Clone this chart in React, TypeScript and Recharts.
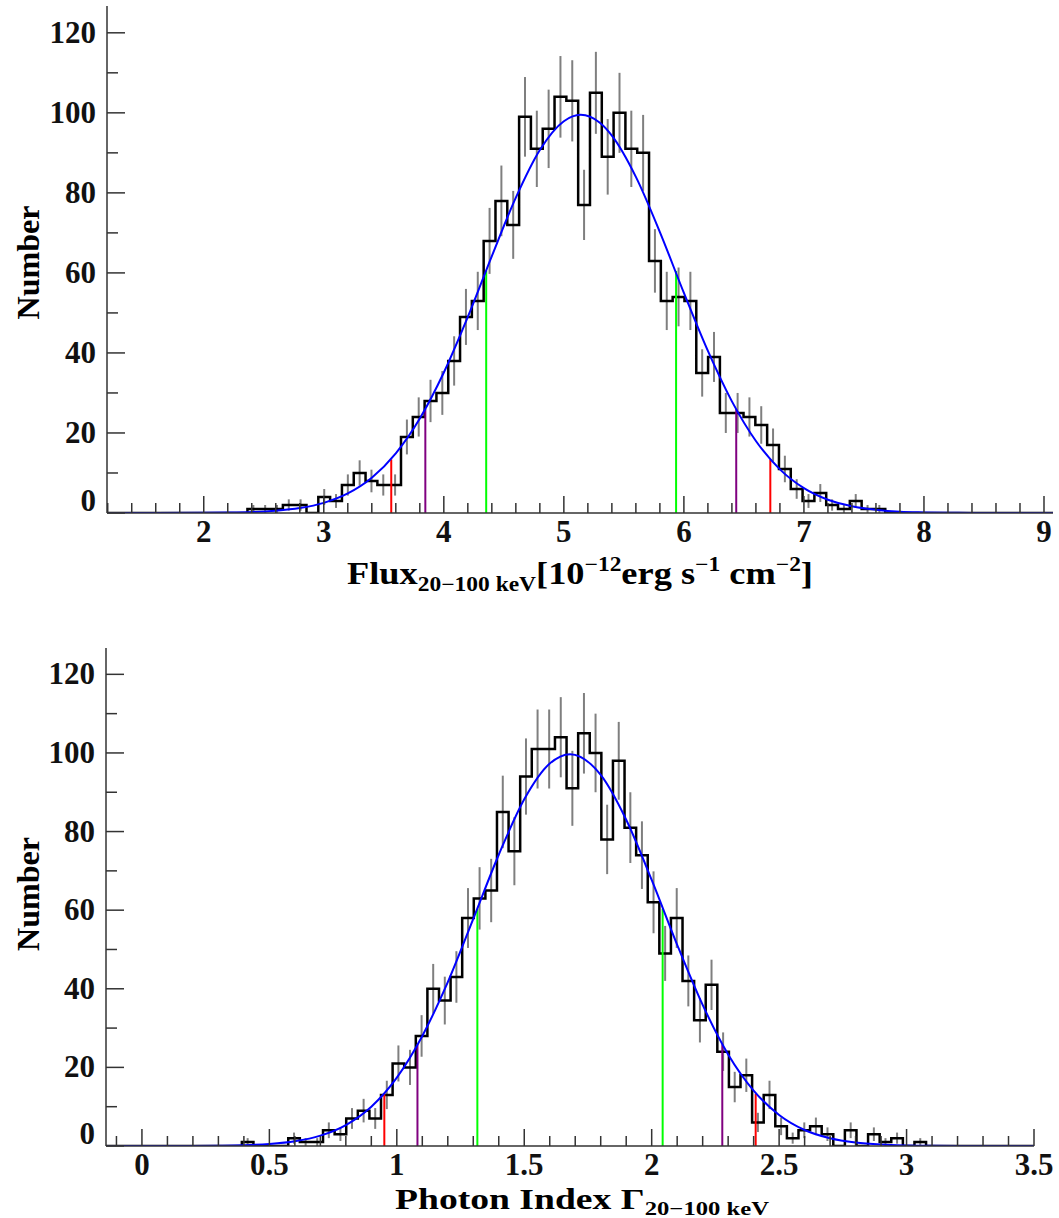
import React from "react"
import { ComposedChart, Line, XAxis, YAxis, ErrorBar, Label } from "recharts"

// ---- upper panel: flux distribution ----
const fluxBinStart = 2.364
const fluxBinWidth = 0.0984
const fluxCounts = [
  1, 1, 1, 2, 2, 0, 4, 3, 7, 10, 8, 7, 7, 19, 24, 28, 30, 38, 49, 53, 68, 78, 72, 99, 91, 96, 104, 103, 77, 105,
  89, 100, 91, 90, 63, 53, 54, 53, 35, 39, 25, 25, 24, 22, 17, 11, 6, 3, 5, 2, 1, 3, 1, 1,
]
const fluxCurveX = [
  1.19, 1.6, 2.0, 2.2, 2.4, 2.6, 2.8, 3.0, 3.2, 3.4, 3.6, 3.8, 4.0, 4.2, 4.4, 4.6, 4.8, 5.0, 5.14, 5.3, 5.4, 5.6,
  5.8, 6.0, 6.2, 6.4, 6.6, 6.8, 7.0, 7.2, 7.4, 7.6, 7.8, 8.0, 8.2, 8.4, 8.8, 9.08,
]
const fluxCurveY = [
  0, 0, 0.04, 0.1, 0.24, 0.57, 1.24, 2.54, 4.88, 8.8, 14.9, 23.6, 35.1, 49.0, 64.2, 78.8, 90.7, 97.9, 99.5, 97.5,
  94.3, 84.0, 70.2, 55.0, 40.5, 27.9, 18.0, 10.9, 6.2, 3.3, 1.7, 0.8, 0.3, 0.14, 0.05, 0.02, 0, 0,
]
const fluxMarkX = [3.562, 3.846, 4.353, 5.935, 6.436, 6.72]
const fluxMarkY = [13.4, 26.0, 60.5, 60.5, 26.0, 13.4]
const fluxMajorTicks = [2, 3, 4, 5, 6, 7, 8, 9]

// ---- lower panel: photon index distribution ----
const indexBinStart = 0.392
const indexBinWidth = 0.0455
const indexCounts = [
  1, 0, 0, 0, 2, 1, 1, 4, 3, 7, 9, 7, 13, 21, 20, 28, 40, 37, 43, 58, 63, 65, 85, 75, 94, 101, 101, 104, 91, 105,
  100, 78, 98, 81, 74, 62, 49, 58, 42, 32, 41, 24, 15, 18, 6, 13, 5, 2, 4, 5, 3, 0, 4, 0, 3, 1, 2, 0, 1,
]
const indexCurveX = [
  -0.141, 0.0, 0.2, 0.3, 0.4, 0.5, 0.6, 0.7, 0.8, 0.9, 1.0, 1.1, 1.2, 1.3, 1.4, 1.5, 1.6, 1.68, 1.8, 1.9, 2.0, 2.1,
  2.2, 2.3, 2.4, 2.5, 2.6, 2.7, 2.8, 2.9, 3.0, 3.1, 3.2, 3.5,
]
const indexCurveY = [
  0, 0, 0.03, 0.08, 0.2, 0.52, 1.21, 2.64, 5.34, 10.0, 17.4, 28.0, 41.7, 57.8, 74.1, 88.2, 97.3, 99.7, 94.4, 83.0,
  67.7, 51.2, 35.9, 23.3, 14.1, 7.9, 4.07, 1.96, 0.87, 0.36, 0.14, 0.05, 0.02, 0,
]
const indexMarkX = [0.951, 1.081, 1.316, 2.043, 2.277, 2.408]
const indexMarkY = [13.3, 25.9, 60.3, 60.3, 25.9, 13.3]
const indexMajorTicks = [0, 0.5, 1, 1.5, 2, 2.5, 3, 3.5]

const yMajorTicks = [0, 20, 40, 60, 80, 100, 120]

const markColors = ["#ff0000", "#800080", "#00ff00", "#00ff00", "#800080", "#ff0000"]
const FONT = "'Liberation Serif', 'Times New Roman', serif"
const AXIS = "#333"

function steps(from: number, to: number, step: number) {
  const out: number[] = []
  for (let v = from; v <= to + step / 2; v += step) out.push(Math.round(v * 1000) / 1000)
  return out
}

const isMajor = (majors: number[], v: number) => majors.some((m) => Math.abs(m - v) < 1e-6)

const bottomTick = (majors: number[]) => (p: any) => {
  const v = p.payload.value
  const major = isMajor(majors, v)
  return (
    <g>
      <line x1={p.x} x2={p.x} y1={p.y} y2={p.y - (major ? 17 : 10)} stroke={AXIS} strokeWidth={1.5} />
      {major && (
        <text x={p.x} y={p.y + 29} textAnchor="middle" fontFamily={FONT} fontWeight="bold" fontSize={31} fill="#111">
          {String(v)}
        </text>
      )}
    </g>
  )
}

const topTick = (majors: number[]) => (p: any) => {
  const major = isMajor(majors, p.payload.value)
  return <line x1={p.x} x2={p.x} y1={p.y} y2={p.y + (major ? 17 : 10)} stroke={AXIS} strokeWidth={1.5} />
}

const leftTick = (p: any) => {
  const v = p.payload.value
  const major = isMajor(yMajorTicks, v)
  return (
    <g>
      <line x1={p.x} x2={p.x + (major ? 18 : 11)} y1={p.y} y2={p.y} stroke={AXIS} strokeWidth={1.5} />
      {major && (
        <text
          x={p.x - 11}
          y={p.y + 10 + (v === 0 ? -12 : 0)}
          textAnchor="end"
          fontFamily={FONT}
          fontWeight="bold"
          fontSize={31}
          fill="#111"
        >
          {String(v)}
        </text>
      )}
    </g>
  )
}

const rightTick = (p: any) => {
  const major = isMajor(yMajorTicks, p.payload.value)
  return <line x1={p.x} x2={p.x - (major ? 18 : 11)} y1={p.y} y2={p.y} stroke={AXIS} strokeWidth={1.5} />
}

interface PanelProps {
  top: number
  height: number
  margin: { top: number; right: number; left: number; bottom: number }
  yAxisWidth: number
  xAxisHeight: number
  xDomain: [number, number]
  xTicks: number[]
  xMajor: number[]
  binStart: number
  binWidth: number
  counts: number[]
  curveX: number[]
  curveY: number[]
  markX: number[]
  markY: number[]
  title: (cx: number, y: number) => React.ReactNode
  titleDx: number
  titleDy: number
  yTitleDy: number
}

function HistPanel(props: PanelProps) {
  const { binStart, binWidth, counts, xDomain } = props
  const hist = [
    { x: xDomain[0], y: 0 },
    ...counts.map((c, i) => ({ x: binStart + i * binWidth, y: c })),
    { x: binStart + counts.length * binWidth, y: 0 },
    { x: xDomain[1], y: 0 },
  ]
  // Poisson errors on each bin
  const errs = counts.map((c, i) => ({ x: binStart + (i + 0.5) * binWidth, y: c, err: Math.sqrt(c) }))
  const curve = props.curveX.map((x, i) => ({ x, y: props.curveY[i] }))
  const yTicks = steps(0, 120, 10)
  const yDomain: [number, number] = [0, 126.7]

  return (
    <div style={{ position: "absolute", left: 0, top: props.top }}>
      <ComposedChart width={1059} height={props.height} margin={props.margin}>
        <XAxis
          dataKey="x"
          type="number"
          domain={xDomain}
          allowDataOverflow
          ticks={props.xTicks}
          interval={0}
          tickSize={0}
          tickMargin={0}
          tickLine={false}
          tick={bottomTick(props.xMajor)}
          axisLine={{ stroke: AXIS, strokeWidth: 1.5 }}
          height={props.xAxisHeight}
        >
          <Label
            content={(lp: any) => {
              const vb = lp.viewBox
              return props.title(vb.x + vb.width / 2 + props.titleDx, vb.y + props.titleDy)
            }}
          />
        </XAxis>
        <XAxis
          xAxisId="top"
          orientation="top"
          dataKey="x"
          type="number"
          domain={xDomain}
          allowDataOverflow
          ticks={props.xTicks}
          interval={0}
          tickSize={0}
          tickMargin={0}
          tickLine={false}
          tick={topTick(props.xMajor)}
          axisLine={{ stroke: AXIS, strokeWidth: 1.5 }}
          height={0}
        />
        <YAxis
          type="number"
          domain={yDomain}
          allowDataOverflow
          ticks={yTicks}
          interval={0}
          tickSize={0}
          tickMargin={0}
          tickLine={false}
          tick={leftTick}
          axisLine={{ stroke: AXIS, strokeWidth: 1.5 }}
          width={props.yAxisWidth}
        >
          <Label
            content={(lp: any) => {
              const vb = lp.viewBox
              const cy = vb.y + vb.height / 2 + props.yTitleDy
              return (
                <text
                  x={39}
                  y={cy}
                  transform={`rotate(-90 39 ${cy})`}
                  textAnchor="middle"
                  fontFamily={FONT}
                  fontWeight="bold"
                  fontSize={32}
                  textLength={114}
                  lengthAdjust="spacingAndGlyphs"
                  fill="#000"
                >
                  Number
                </text>
              )
            }}
          />
        </YAxis>
        <YAxis
          yAxisId="right"
          orientation="right"
          type="number"
          domain={yDomain}
          allowDataOverflow
          ticks={yTicks}
          interval={0}
          tickSize={0}
          tickMargin={0}
          tickLine={false}
          tick={rightTick}
          axisLine={{ stroke: AXIS, strokeWidth: 1.5 }}
          width={0}
        />

        <Line data={errs} dataKey="y" stroke="none" dot={false} activeDot={false} isAnimationActive={false}>
          <ErrorBar dataKey="err" width={0} stroke="#7f7f7f" strokeWidth={2} />
        </Line>
        <Line
          data={hist}
          dataKey="y"
          type="stepAfter"
          stroke="#000"
          strokeWidth={2.5}
          dot={false}
          activeDot={false}
          isAnimationActive={false}
        />
        {props.markX.map((x, i) => (
          <Line
            key={`mark-${i}`}
            data={[
              { x, y: 0 },
              { x, y: props.markY[i] },
            ]}
            dataKey="y"
            stroke={markColors[i]}
            strokeWidth={2}
            dot={false}
            activeDot={false}
            isAnimationActive={false}
          />
        ))}
        <Line
          data={curve}
          dataKey="y"
          type="monotone"
          stroke="#0000ff"
          strokeWidth={2}
          dot={false}
          activeDot={false}
          isAnimationActive={false}
        />
      </ComposedChart>
    </div>
  )
}

const fluxTitle = (cx: number, y: number) => (
  <text
    x={cx}
    y={y}
    textAnchor="middle"
    fontFamily={FONT}
    fontWeight="bold"
    fontSize={31}
    textLength={466}
    lengthAdjust="spacingAndGlyphs"
    fill="#000"
  >
    Flux
    <tspan fontSize={20} dy={7}>
      20−100 keV
    </tspan>
    <tspan dy={-7}>[10</tspan>
    <tspan fontSize={20} dy={-13}>
      −12
    </tspan>
    <tspan dy={13}>erg s</tspan>
    <tspan fontSize={20} dy={-13}>
      −1
    </tspan>
    <tspan dy={13}> cm</tspan>
    <tspan fontSize={20} dy={-13}>
      −2
    </tspan>
    <tspan dy={13}>]</tspan>
  </text>
)

const indexTitle = (cx: number, y: number) => (
  <text
    x={cx}
    y={y}
    textAnchor="middle"
    fontFamily={FONT}
    fontWeight="bold"
    fontSize={29}
    textLength={374}
    lengthAdjust="spacingAndGlyphs"
    fill="#000"
  >
    Photon Index Γ
    <tspan fontSize={19} dy={6}>
      20−100 keV
    </tspan>
  </text>
)

export default function App() {
  return (
    <div style={{ position: "absolute", left: 0, top: 0, width: 1059, height: 1218, background: "#fff" }}>
      <HistPanel
        top={0}
        height={600}
        margin={{ top: 6, right: 6, left: 0, bottom: 0 }}
        yAxisWidth={107}
        xAxisHeight={87}
        xDomain={[1.194, 9.075]}
        xTicks={steps(1.2, 9.0, 0.2)}
        xMajor={fluxMajorTicks}
        binStart={fluxBinStart}
        binWidth={fluxBinWidth}
        counts={fluxCounts}
        curveX={fluxCurveX}
        curveY={fluxCurveY}
        markX={fluxMarkX}
        markY={fluxMarkY}
        title={fluxTitle}
        titleDx={0}
        titleDy={71}
        yTitleDy={3}
      />
      <HistPanel
        top={600}
        height={618}
        margin={{ top: 48, right: 25, left: 0, bottom: 0 }}
        yAxisWidth={106}
        xAxisHeight={72}
        xDomain={[-0.141, 3.5]}
        xTicks={steps(-0.1, 3.5, 0.1)}
        xMajor={indexMajorTicks}
        binStart={indexBinStart}
        binWidth={indexBinWidth}
        counts={indexCounts}
        curveX={indexCurveX}
        curveY={indexCurveY}
        markX={indexMarkX}
        markY={indexMarkY}
        title={indexTitle}
        titleDx={12}
        titleDy={63}
        yTitleDy={-3}
      />
    </div>
  )
}
